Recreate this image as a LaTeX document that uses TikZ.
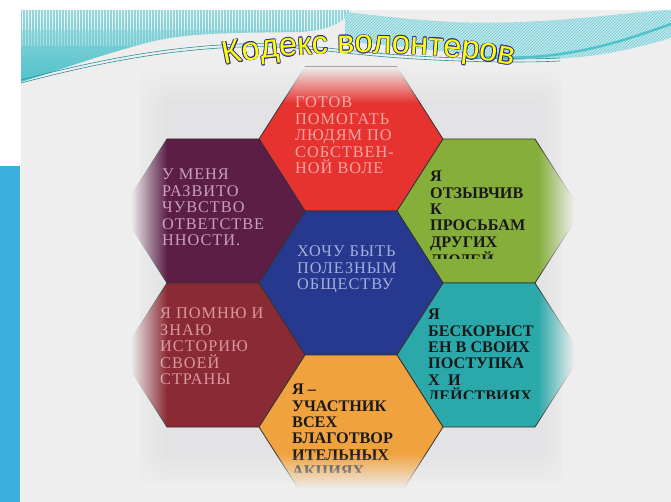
\documentclass[tikz,border=0pt]{standalone}
\usepackage{fontspec}
\setmainfont{Liberation Serif}
\newfontfamily\titlefont{Liberation Sans}
\newfontfamily\hexfont[LetterSpace=6]{Liberation Serif}
\usetikzlibrary{decorations.text,fadings,patterns}
\definecolor{slidebg}{HTML}{EEEEEE}
\definecolor{paperbg}{HTML}{E3E3E5}
\definecolor{barblue}{HTML}{3AAEDC}
\definecolor{cyanA}{HTML}{4FC3CB}
\definecolor{cyanB}{HTML}{9AD6DB}
\definecolor{cyanC}{HTML}{C4E8EB}
\definecolor{cyanD}{HTML}{6CCBD3}
\definecolor{cyanline}{HTML}{2A8E9E}
\definecolor{hexred}{HTML}{E63330}
\definecolor{hexpurple}{HTML}{5C1E47}
\definecolor{hexgreen}{HTML}{86AE3A}
\definecolor{hexblue}{HTML}{26398E}
\definecolor{hexteal}{HTML}{2BA8AA}
\definecolor{hexdred}{HTML}{8A2A34}
\definecolor{hexorange}{HTML}{F0A23E}
\definecolor{redtxt}{HTML}{F4A6A4}
\definecolor{purtxt}{HTML}{C8A0B9}
\definecolor{blutxt}{HTML}{A4AEDC}
\definecolor{drtxt}{HTML}{D9989D}
\definecolor{titleyellow}{HTML}{FFFF00}
\definecolor{titleblue}{HTML}{2A2A9A}
\tikzset{
  hexcell/.style={draw=black!80, line width=0.8pt},
  lighttext/.style={anchor=north west, inner sep=0pt, align=left,
    font=\hexfont\fontsize{16.3}{16.4}\selectfont},
  darktext/.style={anchor=north west, inner sep=0pt, align=left, text=black!90,
    font=\bfseries\fontsize{16.2}{16.3}\selectfont},
  thinwave/.style={draw=cyanline, line width=0.6pt},
}
\newcommand\hexat[3]{\filldraw[hexcell, fill=#3, shift={(#1,#2)}]
  (-46,-72) -- (46,-72) -- (92,0) -- (46,72) -- (-46,72) -- (-92,0) -- cycle;}
\begin{document}
\begin{tikzpicture}[x=1pt,y=-1pt]
\useasboundingbox (0,0) rectangle (671,502);
\fill[white] (0,0) rectangle (671,502);
\fill[slidebg] (21,10) rectangle (671,502);
\fill[barblue] (0,166) rectangle (20,502);
% left banner
\begin{scope}
\clip (21,10) -- (350,10) .. controls (345,22) and (330,30) .. (300,32)
  .. controls (240,33) and (190,32) .. (150,42)
  .. controls (100,55) and (60,70) .. (21,82) -- cycle;
\shade[top color=cyanB, bottom color=cyanA] (21,10) rectangle (350,82);
\foreach \x in {22,25,...,350} {
  \draw[white, opacity=0.75, line width=1pt] (\x,10) -- (\x,30);
  \draw[white, opacity=0.35, line width=1pt] (\x,30) -- (\x,46);
}
\end{scope}
% right ribbon
\fill[cyanC] (345,12) .. controls (400,18) and (450,25) .. (520,22)
  .. controls (580,20) and (630,12) .. (671,10) -- (671,38)
  .. controls (630,50) and (580,62) .. (520,58)
  .. controls (460,55) and (400,45) .. (345,42) -- cycle;
\fill[pattern=north east lines, pattern color=cyanD] (345,12) .. controls (400,18) and (450,25) .. (520,22)
  .. controls (580,20) and (630,12) .. (671,10) -- (671,38)
  .. controls (630,50) and (580,62) .. (520,58)
  .. controls (460,55) and (400,45) .. (345,42) -- cycle;
\draw[cyanA, line width=2.5pt] (470,56) .. controls (560,64) and (620,42) .. (671,24);
\draw[thinwave] (21,80) .. controls (90,62) and (160,47) .. (240,44)
  .. controls (300,42) and (330,50) .. (400,55) .. controls (460,59) and (520,60) .. (560,58);
\draw[thinwave] (21,83) .. controls (90,65) and (160,50) .. (240,47)
  .. controls (300,45) and (330,53) .. (400,58) .. controls (460,62) and (520,63) .. (560,61);
% picture paper
\fill[paperbg] (140,67) rectangle (562,482);
% hexagons
\hexat{351}{139}{hexred}
\hexat{213}{211}{hexpurple}
\hexat{489}{211}{hexgreen}
\hexat{351}{283}{hexblue}
\hexat{213}{355}{hexdred}
\hexat{489}{355}{hexteal}
\hexat{351}{427}{hexorange}
% texts
\node[lighttext, text=redtxt] (tRed) at (295,97) {ГОТОВ\\ПОМОГАТЬ\\ЛЮДЯМ ПО\\СОБСТВЕН-\\НОЙ ВОЛЕ};
\node[lighttext, text=purtxt] (tPurple) at (162,169) {У МЕНЯ\\РАЗВИТО\\ЧУВСТВО\\ОТВЕТСТВЕ\\ННОСТИ.};
\node[lighttext, text=blutxt] (tBlue) at (297,246) {ХОЧУ БЫТЬ\\ПОЛЕЗНЫМ\\ОБЩЕСТВУ};
\node[lighttext, text=drtxt] (tDred) at (160,308) {Я ПОМНЮ И\\ЗНАЮ\\ИСТОРИЮ\\СВОЕЙ\\СТРАНЫ};
\begin{scope}
\clip (400,150) rectangle (560,259);
\node[darktext] (tGreen) at (430,171) {Я\\ОТЗЫВЧИВ\\К\\ПРОСЬБАМ\\ДРУГИХ\\ЛЮДЕЙ};
\end{scope}
\begin{scope}
\clip (400,290) rectangle (560,398);
\node[darktext] (tTeal) at (428,309) {Я\\БЕСКОРЫСТ\\ЕН В СВОИХ\\ПОСТУПКА\\Х\ \ И\\ДЕЙСТВИЯХ};
\end{scope}
\begin{scope}
\clip (270,370) rectangle (420,472);
\node[darktext] (tOrange) at (292,384) {Я –\\УЧАСТНИК\\ВСЕХ\\БЛАГОТВОР\\ИТЕЛЬНЫХ\\АКЦИЯХ};
\end{scope}
% soft edges of the picture
\fill[slidebg] (100,67) rectangle (131,502);
\fill[slidebg, path fading=east] (131,67) rectangle (167,502);
\fill[slidebg] (574,67) rectangle (610,502);
\fill[slidebg, path fading=west] (538,67) rectangle (574,502);
\fill[slidebg, path fading=south] (131,67) rectangle (574,103);
\fill[slidebg, path fading=north] (100,453) rectangle (610,489);
\fill[slidebg] (100,489) rectangle (610,502);
% title
\foreach \dx/\dy in {0.7/0,-0.7/0,0/0.7,0/-0.7,0.5/0.5,-0.5/0.5,0.5/-0.5,-0.5/-0.5} {
  \path[decorate, decoration={text along path, text align=center, text color=titleblue,
    text={|\titlefont\fontsize{32.5}{32.5}\selectfont|Кодекс волонтеров}}, shift={(\dx,\dy)}]
    (214,68) .. controls (280,48) and (440,48) .. (524,68);
}
\path[decorate, decoration={text along path, text align=center, text color=titleyellow,
    text={|\titlefont\fontsize{32.5}{32.5}\selectfont|Кодекс волонтеров}}]
    (214,68) .. controls (280,48) and (440,48) .. (524,68);
\end{tikzpicture}
\end{document}
